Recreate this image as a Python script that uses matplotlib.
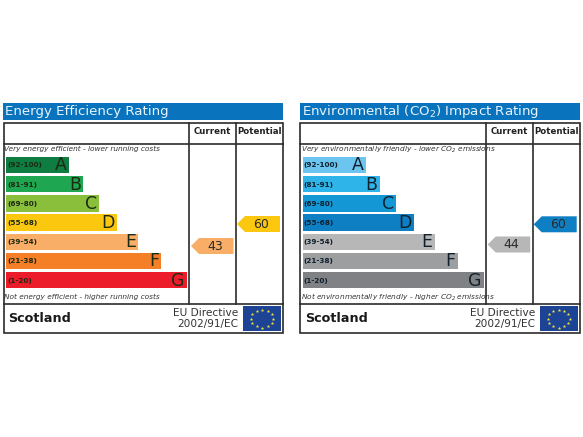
import numpy as np
import matplotlib
matplotlib.use("Agg")
import matplotlib.pyplot as plt
from matplotlib.patches import Rectangle, Polygon

plt.rcParams['mathtext.default'] = 'regular'

letters = ['A', 'B', 'C', 'D', 'E', 'F', 'G']
ranges = ['(92-100)', '(81-91)', '(69-80)', '(55-68)', '(39-54)', '(21-38)', '(1-20)']
bar_ends = [63, 77, 93, 111, 132, 155, 181]
energy_colors = ['#0f7d42', '#1ea650', '#8abf3c', '#fcc80f', '#f9ae67', '#f47f27', '#ed1c2b']
env_colors = ['#6cc5ee', '#2fb4ea', '#1498d5', '#0f7fc4', '#b7b7b8', '#9d9ea0', '#808184']
energy_title = 'Energy Efficiency Rating'
env_title = 'Environmental (CO$_2$) Impact Rating'
energy_top = 'Very energy efficient - lower running costs'
energy_bottom = 'Not energy efficient - higher running costs'
env_top = 'Very environmentally friendly - lower CO$_2$ emissions'
env_bottom = 'Not environmentally friendly - higher CO$_2$ emissions'
energy_current, energy_potential = 43, 60
env_current, env_potential = 44, 60

fig = plt.figure(figsize=(5.83, 4.37), dpi=100, facecolor='white')
ax = fig.add_axes([0, 0, 1, 1])
ax.set_xlim(0, 583)
ax.set_ylim(437, 0)
ax.axis('off')

DARK = '#2b2b2b'


def pointer(x0, x1, y0, y1, color, value):
    tip = 8
    ax.add_patch(Polygon([(x0, (y0 + y1) / 2), (x0 + tip, y0), (x1, y0), (x1, y1), (x0 + tip, y1)],
                         closed=True, fc=color, ec='none', zorder=3))
    ax.text((x0 + x1) / 2 + 2.5, (y0 + y1) / 2 + 0.3, str(value), ha='center', va='center',
            fontsize=9, color='#2a2a2a', zorder=4)


def panel(ox, title, top, bottom, colors, current, potential, cur_y, pot_y, txt):
    ax.add_patch(Rectangle((ox + 3, 103), 280, 17, fc='#0a73bd', ec='none'))
    ax.text(ox + 5, 112, title, color='#e8f4fb', fontsize=9.6, va='center', ha='left')
    ax.add_patch(Rectangle((ox + 3.5, 123), 279.5, 209.5, fc='white', ec=DARK, lw=1.2, zorder=5, fill=False))
    for y in (143.5, 303.5):
        ax.plot([ox + 3.5, ox + 283], [y, y], color=DARK, lw=1.2, zorder=5)
    for x in (189, 236):
        ax.plot([ox + x, ox + x], [123, 303.5], color=DARK, lw=1.2, zorder=5)
    ax.text(ox + 212.5, 132, 'Current', ha='center', va='center', fontsize=6.2, fontweight='bold', color='#222222')
    ax.text(ox + 259.5, 132, 'Potential', ha='center', va='center', fontsize=6.2, fontweight='bold', color='#222222')
    ax.text(ox + 4.5, 149, top, fontsize=5.3, style='italic', va='center', ha='left', color='#333333')
    ax.text(ox + 4.5, 297, bottom, fontsize=5.3, style='italic', va='center', ha='left', color='#333333')
    ys = 165 + 19.2 * np.arange(len(letters))
    ax.barh(ys, bar_ends, height=16.5, left=ox + 6, color=colors, edgecolor='none', zorder=2)
    for y, end, letter, rng in zip(ys, bar_ends, letters, ranges):
        ax.text(ox + 7, y + 0.3, rng, fontsize=5.2, fontweight='bold', va='center', ha='left', color=txt, zorder=3)
        ax.text(ox + 6 + end - 2, y + 0.3, letter, fontsize=12.5, va='center', ha='right', color=txt, zorder=3)
    pointer(ox + 191, ox + 233.5, cur_y - 8, cur_y + 8, colors[4] if ox == 0 else colors[4], current)
    pointer(ox + 237, ox + 280, pot_y - 8, pot_y + 8, colors[3], potential)
    ax.text(ox + 8.5, 318, 'Scotland', fontsize=9.2, fontweight='bold', va='center', ha='left', color='#1a1a1a')
    ax.text(ox + 238.5, 312.5, 'EU Directive', fontsize=7.6, va='center', ha='right', color='#333333')
    ax.text(ox + 238.5, 324, '2002/91/EC', fontsize=7.6, va='center', ha='right', color='#333333')
    ax.add_patch(Rectangle((ox + 243, 306), 38, 25, fc='#1d4494', ec='none', zorder=3))
    ang = np.deg2rad(np.arange(0, 360, 30))
    ax.scatter(ox + 262 + 11 * np.cos(ang), 318.5 + 9 * np.sin(ang), marker='*', s=7,
               color='#f4e33a', linewidths=0, zorder=4)


panel(0, energy_title, energy_top, energy_bottom, energy_colors,
      energy_current, energy_potential, 246, 224, '#1c2a14')
panel(296.7, env_title, env_top, env_bottom, env_colors,
      env_current, env_potential, 244.5, 224.3, '#10202c')

fig.savefig('out.png', dpi=100, facecolor='white')
